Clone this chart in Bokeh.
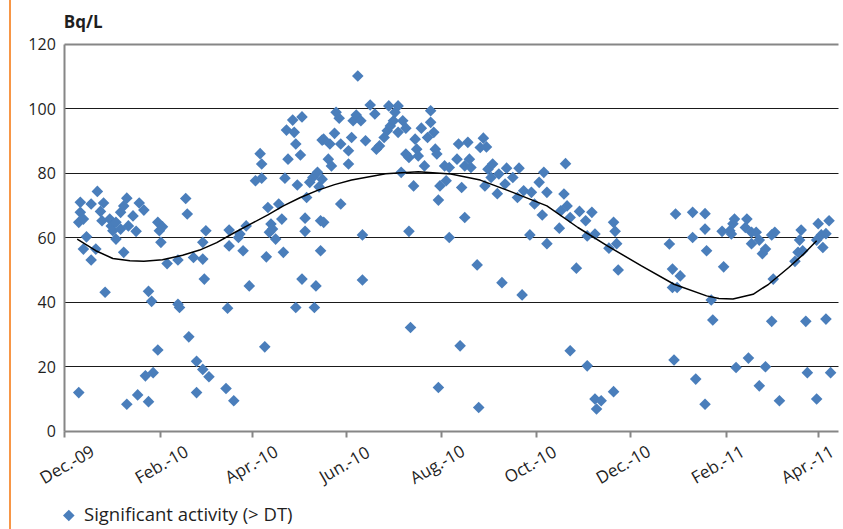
import math
from bokeh.plotting import figure
from bokeh.models import Range1d, FixedTicker, Label, Legend, LegendItem, Div, Grid
from bokeh.layouts import row
from bokeh.embed import file_html
from bokeh.resources import INLINE

# x values are days counted from 1 Dec 2009
START_DATE = "2009-12-01"

days = [9, 10, 10, 9, 12, 12, 14, 17, 17, 20, 21, 23, 25, 24, 26, 29, 30, 31, 33, 33,
        36, 36, 38, 38, 40, 40, 41, 44, 46, 47, 48, 51, 52, 54, 54, 56, 57, 60, 60, 61,
        62, 63, 66, 73, 74, 73, 78, 79, 80, 83, 85, 85,
        89, 89, 91, 90, 89, 93, 104, 109, 105, 106, 106, 112, 113, 115, 117, 119, 123, 127,
        126, 127, 129, 130, 131, 132, 133, 134, 136, 138, 140, 141, 142, 143, 144, 147, 148, 149,
        150, 149, 152, 153, 153, 155, 155, 156, 158, 160, 161, 162, 163, 164, 165, 165, 166,
        166, 167, 167, 170, 172, 171, 174, 175, 177, 178, 178, 183, 183, 185, 186, 188, 189,
        191, 192, 192, 194, 197, 200, 201, 203, 206, 209, 208, 210, 212, 213, 215, 215, 217,
        218, 220, 220, 222, 222, 223, 225, 226, 227, 228, 230, 232, 234, 236, 236, 238, 239,
        240, 241, 241, 242, 245, 246, 248,
        248, 254, 253, 255, 256, 258, 258, 260, 261, 262, 266, 267, 268, 270, 271, 272, 273,
        275, 276, 279, 280, 282, 284, 285, 289, 292, 293, 295, 296, 300, 301, 303, 306, 308,
        309, 311, 311, 319, 320, 322, 323, 324, 326, 326, 330,
        332, 336, 340, 337, 342, 337, 342, 343, 346, 354, 351, 354, 355, 356, 357, 390, 392,
        397, 392, 395, 393, 394, 405, 405, 407, 413, 413, 414, 413,
        417, 418, 425, 424, 429, 431, 432, 430, 433, 440, 441, 439, 443, 443, 446, 448, 448,
        450, 452, 452, 456, 458, 457, 456, 461, 471, 473, 474, 475, 476, 478, 479, 485, 485,
        486, 488, 489, 491, 491, 493, 494]

activity = [11.9, 70.9, 67.8, 64.7, 65.7, 56.4, 60.2, 70.4, 53.0, 56.4, 74.3, 68.1, 70.7, 65.2, 43.0, 65.7, 63.6, 62.1, 59.5, 64.7,
            67.8, 62.6, 55.4, 69.8, 72.2, 8.3, 63.6, 66.7, 61.9, 11.2, 70.7, 68.5, 17.1, 9.1, 43.3, 40.2, 18.1, 25.1, 64.7, 62.1,
            58.5, 63.3, 51.9, 39.3, 38.3, 53.0, 72.1, 67.3, 29.2, 53.8, 21.6, 11.9,
            53.3, 58.5, 62.1, 47.1, 19.1, 16.8, 13.2, 9.4, 38.1, 57.4, 62.3, 60.0, 61.1, 55.9, 63.6, 45.0, 77.6, 78.4,
            86.0, 82.8, 26.1, 54.0, 69.3, 61.6, 64.2, 62.6, 59.5, 70.4, 65.7, 55.4, 78.4, 93.3, 84.3, 96.4, 92.6, 89.0,
            76.3, 38.3, 85.6, 97.4, 47.1, 61.9, 66.0, 72.4, 77.1, 78.6, 38.3, 45.0, 80.2, 75.7, 65.2, 55.9, 90.2,
            78.1, 64.7, 90.5, 84.3, 82.2, 89.0, 92.3, 98.8, 97.0, 70.4, 89.0, 82.8, 86.9, 91.0, 96.2, 98.0, 110.1,
            96.2, 60.8, 46.8, 90.0, 101.1, 98.3, 87.4, 88.4, 91.0, 100.8, 93.1, 94.6, 96.2, 98.8, 100.8, 92.6, 80.2,
            96.2, 93.9, 85.9, 84.8, 61.9, 32.1, 76.0, 90.5, 87.4, 85.3, 93.9, 82.2, 91.0, 99.3, 95.7, 92.6, 87.4,
            85.9, 71.6, 13.5, 76.0, 82.2, 77.6, 60.0,
            81.7, 89.0, 84.3, 26.4, 75.5, 66.2, 82.2, 89.5, 84.3, 81.7, 51.5, 7.3, 87.9, 90.8, 76.0, 88.1, 81.2,
            78.6, 82.8, 73.6, 79.7, 46.0, 76.6, 81.5, 78.6, 72.4, 81.5, 42.2, 74.5, 60.8, 74.0, 70.4, 77.1, 67.0,
            80.2, 74.0, 58.1, 62.9, 68.3, 73.5, 82.9, 69.8, 66.2, 24.9, 50.5,
            68.1, 65.2, 67.8, 60.5, 61.1, 20.2, 9.9, 6.8, 9.4, 12.2, 56.7, 64.7, 61.9, 58.1, 49.9, 58.0, 50.2,
            48.1, 44.5, 44.5, 22.0, 67.3, 67.8, 60.0, 16.1, 67.4, 62.6, 55.9, 8.3,
            40.6, 34.4, 50.9, 61.9, 62.1, 64.3, 65.7, 61.1, 19.7, 65.7, 22.6, 63.1, 61.6, 58.1, 61.6, 14.0, 59.2,
            55.0, 56.4, 19.9, 60.8, 61.6, 47.1, 34.0, 9.4, 52.6, 55.4, 59.2, 62.3, 55.9, 34.0, 18.1, 9.9, 59.2,
            64.3, 60.8, 56.9, 34.7, 61.2, 65.2, 18.1]

trend_days = [8, 20, 31, 42, 51, 63, 76, 87, 98, 109, 120, 131, 141, 152, 163, 174, 185, 207, 228, 249, 268, 289,
              311, 331, 350, 372, 393, 414, 422, 431, 444, 454, 467, 476, 485]
trend_vals = [59.5, 55.9, 53.5, 52.8, 52.6, 53.1, 54.5, 56.1, 58.4, 61.4, 64.2, 67.0, 69.8, 72.4, 74.6, 76.4, 77.8,
              79.8, 80.4, 79.7, 77.8, 74.0, 69.8, 63.1, 57.4, 51.2, 45.5, 41.9, 41.1, 40.9, 42.4, 45.5, 50.7, 54.6, 59.0]

tick_days = [0, 62, 121, 182, 243, 304, 365, 427, 486]
tick_labels = ["Dec.-09", "Feb.-10", "Apr.-10", "Jun.-10", "Aug.-10", "Oct.-10", "Dec.-10", "Feb.-11", "Apr.-11"]
x_end = 499
y_ticks = [0, 20, 40, 60, 80, 100, 120]
series_name = "Significant activity (> DT)"
unit_label = "Bq/L"

FONT = "Open Sans"
TXT = "#1f1f1f"
BLUE = "#4a7ebb"
AXIS = "#868686"

W, H = 831, 529
# the frame covers the whole canvas; the chart's own axes are placed at 0 inside it
PX_PER_UNIT = 3.225          # vertical pixels per Bq/L
PX_PER_DAY = 1.5502          # horizontal pixels per day
ZERO_X, ZERO_Y = 52.3, 98.5  # pixels from canvas left / bottom to the axes origin
x_lo = -ZERO_X / PX_PER_DAY
x_hi = (W - ZERO_X) / PX_PER_DAY
y_lo = -ZERO_Y / PX_PER_UNIT
y_hi = (H - ZERO_Y) / PX_PER_UNIT

p = figure(width=W, height=H, output_backend="svg", toolbar_location=None,
           x_range=Range1d(x_lo, x_hi), y_range=Range1d(y_lo, y_hi),
           min_border_left=0, min_border_right=0, min_border_top=0, min_border_bottom=0)
p.outline_line_color = None
p.background_fill_color = "white"
p.border_fill_color = "white"

has_cross = "cross_bounds" in Grid.properties()

p.xgrid.visible = False
p.ygrid.ticker = FixedTicker(ticks=y_ticks[1:-1])
p.ygrid.grid_line_color = "#1a1a1a"
p.ygrid.grid_line_width = 1
top_grid = Grid(dimension=1, ticker=FixedTicker(ticks=[y_ticks[-1]]),
                grid_line_color=AXIS, grid_line_width=2)
p.add_layout(top_grid)
if has_cross:
    p.ygrid.cross_bounds = (0, x_end)
    top_grid.cross_bounds = (0, x_end)
else:
    p.ygrid.visible = False
    top_grid.visible = False
    p.segment(x0=[0] * 5, x1=[x_end] * 5, y0=y_ticks[1:-1], y1=y_ticks[1:-1],
              line_color="#1a1a1a", line_width=1)
    p.segment(x0=[0], x1=[x_end], y0=[y_ticks[-1]], y1=[y_ticks[-1]],
              line_color=AXIS, line_width=2)

# y axis at day 0
p.yaxis.fixed_location = 0
p.yaxis.ticker = FixedTicker(ticks=y_ticks)
p.yaxis.bounds = (y_ticks[0], y_ticks[-1])
p.yaxis.axis_line_color = AXIS
p.yaxis.axis_line_width = 2
p.yaxis.major_tick_out = 0
p.yaxis.major_tick_in = 0
p.yaxis.minor_tick_line_color = None
p.yaxis.major_label_standoff = 9
p.yaxis.major_label_text_font = FONT
p.yaxis.major_label_text_font_size = "16px"
p.yaxis.major_label_text_color = TXT

# x axis at value 0
p.xaxis.fixed_location = 0
p.xaxis.ticker = FixedTicker(ticks=tick_days)
p.xaxis.bounds = (0, x_end)
p.xaxis.axis_line_color = AXIS
p.xaxis.axis_line_width = 2
p.xaxis.major_tick_out = 6
p.xaxis.major_tick_in = 0
p.xaxis.major_tick_line_color = AXIS
p.xaxis.major_tick_line_width = 2
p.xaxis.minor_tick_line_color = None
p.xaxis.major_label_text_color = None

MARKER = dict(marker="square", angle=math.pi / 4, size=8.2, fill_color=BLUE, line_color=None)
r = p.scatter(days, activity, **MARKER)
p.line(trend_days, trend_vals, line_color="black", line_width=1.5)

for i, (d, lab) in enumerate(zip(tick_days, tick_labels)):
    p.add_layout(Label(x=d, y=0, x_offset=2 - 1.6 * i, y_offset=-33, text=lab,
                       angle=math.pi / 6, text_align="center", text_baseline="middle",
                       text_font=FONT, text_font_size="17px", text_color=TXT))

p.add_layout(Label(x=0, y=y_ticks[-1], x_offset=-1, y_offset=22.5, text=unit_label,
                   text_align="left", text_baseline="middle", text_font=FONT,
                   text_font_size="17px", text_font_style="bold", text_color=TXT))

# legend: Bokeh draws legend swatches unrotated, so the diamond key is drawn in the
# series style next to the legend text, and the legend's own swatch is left invisible
key = p.scatter(x=[4 / PX_PER_DAY], y=[-84.5 / PX_PER_UNIT], **MARKER)
swatch = p.scatter(x=[], y=[], marker="square", size=1, fill_alpha=0, line_alpha=0)
legend = Legend(items=[LegendItem(label=series_name, renderers=[swatch])], location=(45, 3),
                glyph_width=22, glyph_height=22, label_standoff=5, padding=0, margin=0,
                spacing=0, border_line_color=None, background_fill_alpha=0,
                label_text_font=FONT, label_text_font_size="18.5px", label_text_color=TXT)
p.add_layout(legend, "center")

bar = Div(width=12, height=H, margin=0,
          styles={"background": "linear-gradient(to right, transparent 9px, #f79646 9px, #f79646 11px, transparent 11px)"})

layout = row(bar, p)
open("out.html", "w").write(file_html(layout, INLINE))
